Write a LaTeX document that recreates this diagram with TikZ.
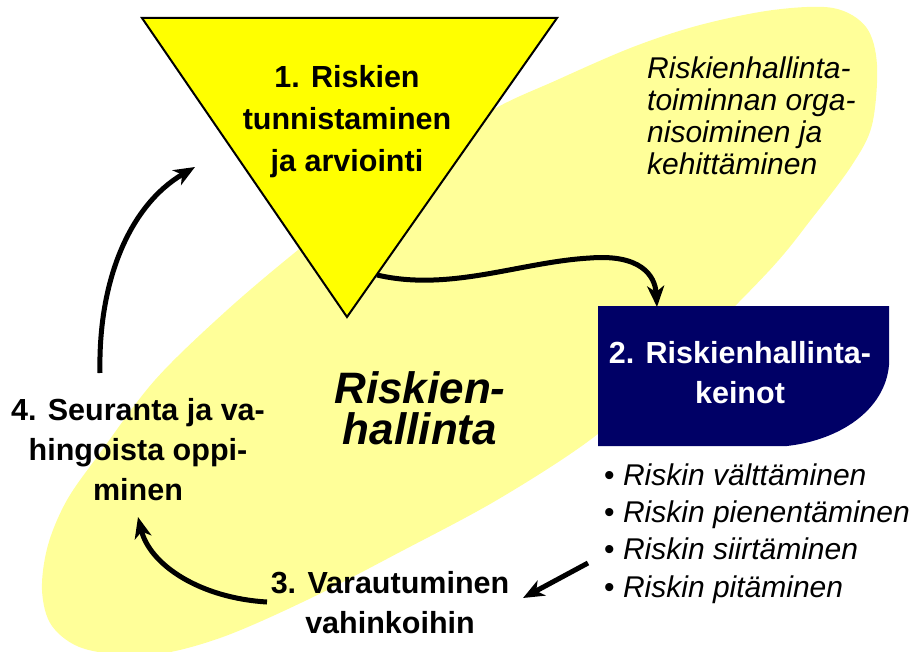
\documentclass[tikz,border=0pt]{standalone}
\usepackage{fontspec}
\setmainfont{Liberation Sans}
\usetikzlibrary{arrows.meta}
\definecolor{paleyellow}{RGB}{255,255,153}
\definecolor{triyellow}{RGB}{255,255,0}
\definecolor{boxnavy}{RGB}{0,0,102}
\tikzset{
  arr/.style={line width=5pt, -{Stealth[length=21pt,width=17pt,inset=6pt]}},
  phase/.style={font=\fontsize{30.5}{40}\selectfont\bfseries, align=center, inner sep=0pt, anchor=base},
  note/.style={font=\fontsize{30}{32.3}\selectfont\itshape, align=left, inner sep=0pt, anchor=base west},
}
\begin{document}
\begin{tikzpicture}[x=1pt, y=-1pt]
    \useasboundingbox (0,0) rectangle (920,652);
    \clip (0,0) rectangle (920,652);

    % coordinates to be reused
    \coordinate (TL) at (142,18);
    \coordinate (TR) at (557,18);
    \coordinate (T) at (347,317);
    \coordinate (K1) at (598,306);
    \coordinate (K2) at (889,306);
    \coordinate (K3) at (889,365);
    \coordinate (K4) at (787,446);
    \coordinate (K5) at (598,446);

    % draw figure
    \fill [paleyellow] plot [smooth cycle, tension=0.55] coordinates {
      (42,590) (48,545) (67,500) (100,453) (155,380) (225,312) (298,250)
      (390,178) (487,113) (557,80) (633,47) (700,25) (773,10) (833,8)
      (866,27) (877,65) (872,125) (852,165) (813,217) (767,273) (665,375)
      (590,440) (497,500) (400,552) (307,600) (220,638) (150,655) (85,649) (52,626)};
    \draw [fill=triyellow, line width=2pt] (TL) -- (TR) -- (T) -- cycle;
    \fill [boxnavy] (K1) -- (K2) -- (K3) .. controls (885,410) and (840,440) .. (K4) -- (K5) -- cycle;

    % add labels (base = last line)
    \node [phase, font=\fontsize{30.5}{42}\selectfont\bfseries] (tunn) at (347,172) {1. Riskien\\tunnistaminen\\ja arviointi};
    \node [phase, text=white] (keino) at (740,403) {2. Riskienhallinta-\\keinot};
    \node [phase] (varau) at (390,633) {3. Varautuminen\\vahinkoihin};
    \node [phase] (seur) at (138,500) {4. Seuranta ja va-\\hingoista oppi-\\minen};
    \node [phase, font=\fontsize{44}{41}\selectfont\bfseries\itshape] (rh) at (420,444) {Riskien-\\hallinta};
    \node [note] (org) at (647,175) {Riskienhallinta-\\toiminnan orga-\\nisoiminen ja\\kehittäminen};
    \node [note, font=\fontsize{30}{37.3}\selectfont] (keinot) at (604,597)
      {\textbullet\ \textit{Riskin välttäminen}\\\textbullet\ \textit{Riskin pienentäminen}\\
       \textbullet\ \textit{Riskin siirtäminen}\\\textbullet\ \textit{Riskin pitäminen}};

    % connectors
    \coordinate (a1) at (377,275);
    \coordinate (b1) at (657,307);
    \coordinate (a2) at (100,373);
    \coordinate (b2) at (195,167);
    \coordinate (a3) at (267,602);
    \coordinate (b3) at (138,517);
    \coordinate (a4) at (588,563);
    \coordinate (b4) at (523,598);
    \draw [arr] (a1) .. controls (450,292) and (520,262) .. (590,258) .. controls (640,254) and (655,275) .. (b1);
    \draw [arr] (a2) .. controls (98,280) and (130,205) .. (b2);
    \draw [arr] (a3) .. controls (200,598) and (150,565) .. (b3);
    \draw [arr] (a4) -- (b4);
\end{tikzpicture}
\end{document}
